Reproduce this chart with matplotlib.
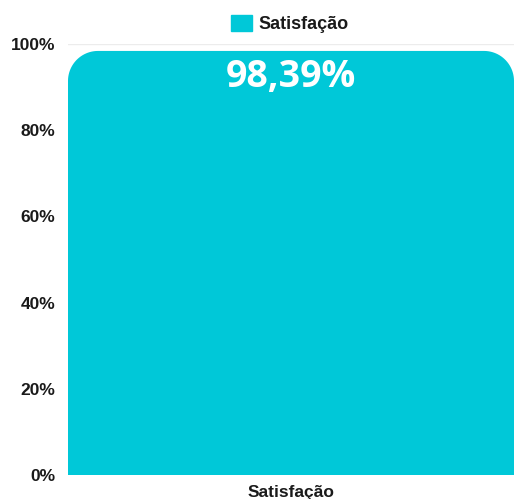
import matplotlib.pyplot as plt
import numpy as np
from matplotlib.path import Path
from matplotlib.patches import PathPatch, Patch

categories = ["Satisfação"]
values = [98.39]
value_labels = ["98,39%"]
yticks = [0, 20, 40, 60, 80, 100]
ytick_labels = ["0%", "20%", "40%", "60%", "80%", "100%"]

BAR_COLOR = "#00c8d8"
TEXT_COLOR = "#1a1a1a"


def rounded_top_path(x0, x1, y0, y1, rx, ry, n=24):
    # bar outline with rounded top corners (elliptic so it looks round on screen)
    t = np.linspace(0, np.pi / 2, n)
    verts = [(x0, y0), (x0, y1 - ry)]
    verts += [(x0 + rx - rx * np.cos(a), y1 - ry + ry * np.sin(a)) for a in t]
    verts += [(x1 - rx + rx * np.sin(a), y1 - ry + ry * np.cos(a)) for a in t]
    verts += [(x1, y0), (x0, y0)]
    codes = [Path.MOVETO] + [Path.LINETO] * (len(verts) - 2) + [Path.CLOSEPOLY]
    return Path(verts, codes)


fig = plt.figure(figsize=(5.14, 4.99), dpi=100)
ax = fig.add_axes([68 / 514, 1 - 475 / 499, 1 - 68 / 514, (475 - 44) / 499])

bars = ax.bar(categories, values, width=0.8, color=BAR_COLOR)
ax.set_xlim(-0.4, 0.4)
ax.set_ylim(0, 100)

# swap the square bars for rounded-top versions
radius_px = 30
ax_w = 446
ax_h = 431
for rect in bars.patches:
    x0, y0 = rect.get_x(), rect.get_y()
    x1, y1 = x0 + rect.get_width(), y0 + rect.get_height()
    rx = radius_px * 0.8 / ax_w
    ry = radius_px * 100 / ax_h
    rect.set_visible(False)
    ax.add_patch(PathPatch(rounded_top_path(x0, x1, y0, y1, rx, ry),
                           facecolor=BAR_COLOR, edgecolor="none", zorder=2))

for i, (v, lab) in enumerate(zip(values, value_labels)):
    ax.text(i, v - 8.4, lab, ha="center", va="baseline", color="white",
            fontsize=27, fontweight="bold", family="Open Sans", zorder=3)

ax.set_yticks(yticks)
ax.set_yticklabels(ytick_labels)
ax.grid(axis="y", color="#ececec", linewidth=1, zorder=0)
ax.set_axisbelow(True)
for s in ax.spines.values():
    s.set_visible(False)
ax.tick_params(length=0)
ax.tick_params(axis="y", pad=9)
ax.tick_params(axis="x", pad=7)
for lbl in ax.get_yticklabels() + ax.get_xticklabels():
    lbl.set_fontweight("bold")
    lbl.set_fontsize(12.5)
    lbl.set_color(TEXT_COLOR)
    lbl.set_family("Liberation Sans")

leg = fig.legend(handles=[Patch(color=BAR_COLOR, label=categories[0])],
                 loc="center", bbox_to_anchor=(290 / 514, 1 - 24 / 499),
                 frameon=False, handlelength=1.15, handleheight=1.0,
                 handletextpad=0.35, borderpad=0,
                 prop={"family": "Liberation Sans", "weight": "bold", "size": 13})
for t in leg.get_texts():
    t.set_color(TEXT_COLOR)

fig.savefig("out.png", dpi=100)
